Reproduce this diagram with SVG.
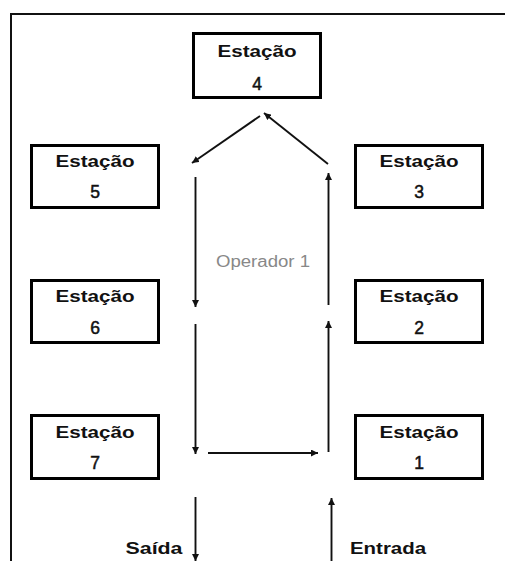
<svg xmlns="http://www.w3.org/2000/svg" width="505" height="561" viewBox="0 0 505 561">
<style>
.box{fill:#fff;stroke:#000;stroke-width:3}
.t{font-family:"Liberation Sans",Arial,sans-serif;font-size:16px;font-weight:bold;fill:#111;text-anchor:middle}
.n{font-family:"Liberation Sans",Arial,sans-serif;font-size:17.5px;fill:#111;stroke:#111;stroke-width:0.5;text-anchor:middle}
.op{font-family:"Liberation Sans",Arial,sans-serif;font-size:16px;fill:#888}
.c{stroke:#111;stroke-width:1.9;fill:none;marker-end:url(#ah)}
</style>
<defs>
<marker id="ah" markerWidth="8" markerHeight="7" refX="7" refY="3.5" orient="auto" markerUnits="userSpaceOnUse">
<path d="M0,0 L7,3.5 L0,7 Z" fill="#111"/>
</marker>
</defs>
<rect width="505" height="561" fill="#fff"/>
<g id="frame">
<path d="M11,561 V14 H505" fill="none" stroke="#111" stroke-width="2"/>
</g>
<g id="station4">
<rect class="box" x="193.5" y="33.5" width="127" height="64"/>
<text class="t" x="257" y="57" textLength="79" lengthAdjust="spacingAndGlyphs">Estação</text>
<text class="n" x="257" y="89.5">4</text>
</g>
<g id="station5">
<rect class="box" x="31.5" y="145.5" width="127" height="62"/>
<text class="t" x="95" y="167" textLength="79" lengthAdjust="spacingAndGlyphs">Estação</text>
<text class="n" x="95" y="197.5">5</text>
</g>
<g id="station3">
<rect class="box" x="355.5" y="145.5" width="127" height="62"/>
<text class="t" x="419" y="167" textLength="79" lengthAdjust="spacingAndGlyphs">Estação</text>
<text class="n" x="419" y="197.5">3</text>
</g>
<g id="station6">
<rect class="box" x="31.5" y="280.5" width="127" height="62"/>
<text class="t" x="95" y="302" textLength="79" lengthAdjust="spacingAndGlyphs">Estação</text>
<text class="n" x="95" y="334">6</text>
</g>
<g id="station2">
<rect class="box" x="355.5" y="280.5" width="127" height="62"/>
<text class="t" x="419" y="302" textLength="79" lengthAdjust="spacingAndGlyphs">Estação</text>
<text class="n" x="419" y="334">2</text>
</g>
<g id="station7">
<rect class="box" x="31.5" y="415.5" width="127" height="63"/>
<text class="t" x="95" y="438" textLength="79" lengthAdjust="spacingAndGlyphs">Estação</text>
<text class="n" x="95" y="468.5">7</text>
</g>
<g id="station1">
<rect class="box" x="355.5" y="415.5" width="127" height="63"/>
<text class="t" x="419" y="438" textLength="79" lengthAdjust="spacingAndGlyphs">Estação</text>
<text class="n" x="419" y="468.5">1</text>
</g>
<g id="labels">
<text class="op" x="216" y="267" textLength="94" lengthAdjust="spacingAndGlyphs">Operador 1</text>
<text class="t" x="154" y="554" textLength="57" lengthAdjust="spacingAndGlyphs">Saída</text>
<text class="t" x="388" y="554" textLength="76" lengthAdjust="spacingAndGlyphs">Entrada</text>
</g>
<g id="connectors">
<line class="c" x1="260" y1="116" x2="192" y2="163"/>
<line class="c" x1="328" y1="164" x2="264" y2="113"/>
<line class="c" x1="195.5" y1="177" x2="195.5" y2="307"/>
<line class="c" x1="328.5" y1="305" x2="328.5" y2="173"/>
<line class="c" x1="195.5" y1="324" x2="195.5" y2="454"/>
<line class="c" x1="328.5" y1="452" x2="328.5" y2="321"/>
<line class="c" x1="208" y1="453" x2="318" y2="453"/>
<line class="c" x1="195.5" y1="497" x2="195.5" y2="561"/>
<line class="c" x1="331.5" y1="561" x2="331.5" y2="498"/>
</g>
</svg>
